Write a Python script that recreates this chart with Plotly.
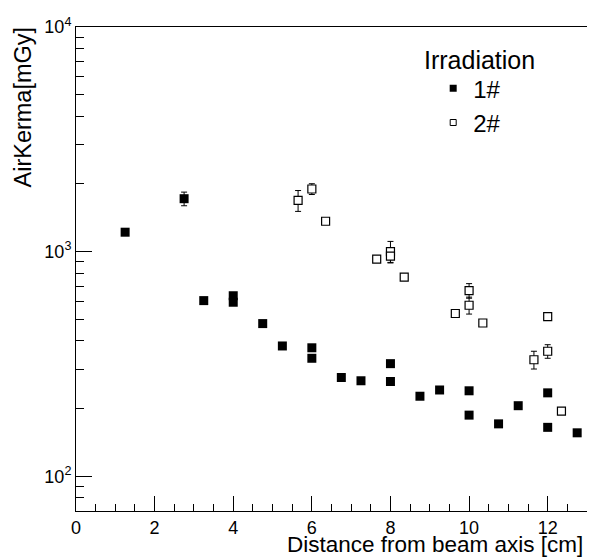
import plotly.graph_objects as go

# Irradiation 1# (filled squares)
x1 = [1.25, 2.75, 3.25, 4.0, 4.0, 4.75, 5.25, 6.0, 6.0, 6.75, 7.25, 8.0, 8.0,
      8.75, 9.25, 10.0, 10.0, 10.75, 11.25, 12.0, 12.0, 12.75]
y1 = [1220, 1720, 605, 636, 595, 478, 380, 373, 335, 275, 266, 317, 264,
      227, 242, 240, 187, 171, 206, 235, 165, 156]
e1 = [0, 120, 0, 0, 0, 0, 0, 0, 0, 0, 0, 0, 0,
      0, 0, 0, 0, 0, 0, 0, 0, 0]

# Irradiation 2# (open squares)
x2 = [5.65, 6.0, 6.35, 7.65, 8.0, 8.0, 8.35, 9.65, 10.0, 10.0, 10.35,
      11.65, 12.0, 12.0, 12.35]
y2 = [1690, 1900, 1365, 925, 1000, 955, 770, 530, 670, 577, 481,
      330, 513, 360, 195]
e2 = [180, 105, 0, 0, 110, 60, 0, 12, 50, 50, 0,
      30, 0, 25, 0]

x_ticks = [0, 2, 4, 6, 8, 10, 12]
y_ticks = [100, 1000, 10000]
y_ticktext = ["10<sup>2</sup>", "10<sup>3</sup>", "10<sup>4</sup>"]
y_minor = [80, 90] + [m * 100 for m in range(2, 10)] + [m * 1000 for m in range(2, 10)]

FONT = "Liberation Sans, Arial, Helvetica, sans-serif"

fig = go.Figure()
fig.add_trace(go.Scatter(
    x=x1, y=y1, mode="markers", name="1#", showlegend=False,
    marker=dict(symbol="square", size=9, color="black", line=dict(width=0)),
    error_y=dict(type="data", array=e1, visible=True, color="black", thickness=1, width=3),
))
fig.add_trace(go.Scatter(
    x=x2, y=y2, mode="markers", name="2#", showlegend=False,
    marker=dict(symbol="square", size=8, color="white", line=dict(width=1.2, color="black")),
    error_y=dict(type="data", array=e2, visible=True, color="black", thickness=1, width=3),
))
# legend entries
fig.add_trace(go.Scatter(
    x=[None], y=[None], mode="markers", name="1#",
    marker=dict(symbol="square", size=7, color="black", line=dict(width=0)),
))
fig.add_trace(go.Scatter(
    x=[None], y=[None], mode="markers", name="2#",
    marker=dict(symbol="square", size=6, color="white", line=dict(width=1, color="black")),
))

fig.update_layout(
    width=587, height=550,
    margin=dict(l=68, r=7, t=11, b=47),
    paper_bgcolor="white", plot_bgcolor="white",
    font=dict(family=FONT, color="black", size=18),
    showlegend=True,
    legend=dict(x=0.699, y=0.919, xanchor="left", yanchor="top",
                font=dict(size=24, family=FONT), bgcolor="rgba(0,0,0,0)",
                borderwidth=0, itemwidth=30),
    xaxis=dict(
        range=[0, 13], showgrid=False, zeroline=False,
        showline=True, linecolor="black", linewidth=1, mirror=True,
        tickmode="array", tickvals=x_ticks, ticks="inside", ticklen=15,
        tickcolor="black", tickwidth=1,
        tickfont=dict(size=18), ticklabeloverflow="allow",
        minor=dict(dtick=0.5, tick0=0, ticks="inside", ticklen=7,
                   tickcolor="black", tickwidth=1, showgrid=False),
    ),
    yaxis=dict(
        type="log", range=[1.845, 4], showgrid=False, zeroline=False,
        showline=True, linecolor="black", linewidth=1, mirror=True,
        tickmode="array", tickvals=y_ticks, ticktext=y_ticktext,
        ticks="inside", ticklen=16, tickcolor="black", tickwidth=1,
        tickfont=dict(size=18), ticklabeloverflow="allow",
        minor=dict(tickmode="array", tickvals=y_minor, ticks="inside", ticklen=8,
                   tickcolor="black", tickwidth=1, showgrid=False),
    ),
    annotations=[
        dict(text="Distance from beam axis [cm]", xref="paper", yref="paper",
             x=1, y=0, xanchor="right", yanchor="middle", xshift=-2, yshift=-33,
             showarrow=False, font=dict(size=22.5, family=FONT)),
        dict(text="AirKerma[mGy]", xref="paper", yref="paper", textangle=-90,
             x=0, y=1, xanchor="center", yanchor="top", xshift=-54, yshift=2,
             showarrow=False, font=dict(size=23.5, family=FONT)),
        dict(text="Irradiation", xref="paper", yref="paper",
             x=0.678, y=0.931, xanchor="left", yanchor="middle",
             showarrow=False, font=dict(size=25, family=FONT)),
    ],
)

fig.write_html("out.html")
